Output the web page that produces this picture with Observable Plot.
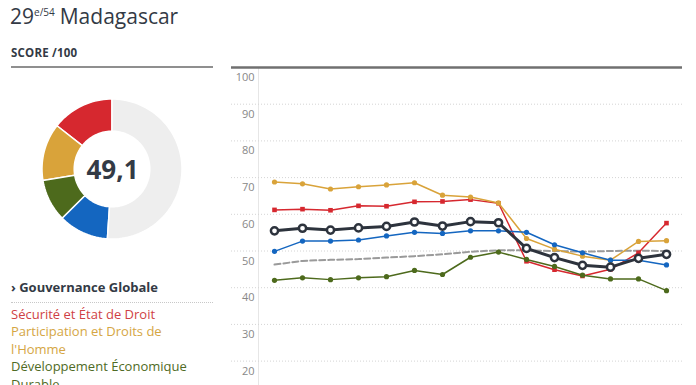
<!DOCTYPE html>
<html>
<head>
<meta charset="utf-8">
<script src="https://cdn.jsdelivr.net/npm/d3@7"></script>
<script src="https://cdn.jsdelivr.net/npm/@observablehq/plot@0.6"></script>
<style>
  html, body { margin: 0; padding: 0; background: #fff; }
  body { width: 696px; height: 385px; overflow: hidden; position: relative; font-family: "Open Sans", sans-serif; color: #333; }
  .abs { position: absolute; white-space: nowrap; }
  #title { left: 10px; top: 5px; font-size: 21px; line-height: 22px; color: #333a45; }
  #title sup { font-size: 10px; vertical-align: 0; position: relative; top: -8px; margin-right: 5px; letter-spacing: 0; }
  #score { left: 11px; top: 47px; font-size: 11.5px; line-height: 12px; font-weight: 700; color: #333a45; letter-spacing: 0.2px; }
  #scorebar { left: 11px; top: 65.5px; width: 202px; height: 2.5px; background: #8f8f8f; }
  #donut { left: 37px; top: 94px; }
  #chart { left: 215px; top: 50px; }
  #legend { left: 11px; top: 279px; width: 202px; font-size: 13px; line-height: 17.5px; }
  #legend .head { font-weight: 700; color: #333a45; padding-bottom: 5px; border-bottom: 1px dotted #c8c8c8; margin-bottom: 3px; }
  #legend .it { white-space: normal; }
</style>
</head>
<body>
<div id="title" class="abs">29<sup>e/54</sup>Madagascar</div>
<div id="score" class="abs">SCORE /100</div>
<div id="scorebar" class="abs"></div>
<div id="donut" class="abs"></div>
<div id="chart" class="abs"></div>
<div id="legend" class="abs"></div>
<script>
// ---- Data ----
const years = ["2000","2001","2002","2003","2004","2005","2006","2007","2008","2009","2010","2011","2012","2013","2014"];
const overall       = [55.5, 56.2, 55.7, 56.3, 56.7, 57.9, 56.8, 58.0, 57.7, 50.7, 48.2, 46.1, 45.6, 48.0, 49.1];
const safety        = [61.2, 61.4, 61.1, 62.3, 62.2, 63.4, 63.5, 64.0, 63.0, 47.2, 44.9, 43.2, 45.0, 49.5, 57.6];
const participation = [68.8, 68.3, 66.9, 67.5, 68.0, 68.6, 65.2, 64.7, 63.1, 53.4, 50.5, 48.6, 47.5, 52.6, 52.8];
const economic      = [42.0, 42.7, 42.2, 42.7, 43.0, 44.7, 43.6, 48.3, 49.7, 47.7, 45.8, 43.4, 42.4, 42.4, 39.2];
const human         = [49.9, 52.7, 52.7, 53.0, 54.1, 55.1, 54.8, 55.5, 55.5, 55.1, 51.7, 49.5, 47.5, 47.5, 46.2];
const africaAvg     = [46.3, 47.3, 47.6, 47.8, 48.2, 48.6, 49.1, 49.8, 50.2, 50.2, 50.0, 49.8, 50.0, 50.1, 50.0];
const yTicks = [20, 30, 40, 50, 60, 70, 80, 90, 100];

const categories = ["Sécurité et État de Droit", "Participation et Droits de l'Homme", "Développement Économique Durable", "Développement Humain"];
const catColors  = ["#d6282f", "#d9a33a", "#4d6a1c", "#1466c0"];
const textColors = ["#cf3f45", "#d5a644", "#4f6b25", "#1466c0"];
const restColor = "#eeeeee";

// ---- Legend (HTML text) ----
const legend = document.getElementById("legend");
legend.innerHTML = `<div class="head">› Gouvernance Globale</div>` +
  `<div class="it" style="color:${textColors[0]}">Sécurité et État de Droit</div>` +
  `<div class="it" style="color:${textColors[1]}">Participation et Droits de<br>l'Homme</div>` +
  `<div class="it" style="color:${textColors[2]}">Développement Économique<br>Durable</div>` +
  `<div class="it" style="color:${textColors[3]}">Développement Humain</div>`;

// ---- Donut ----
const last = [safety, participation, economic, human].map(a => a[a.length - 1]);
const shares = last.map(v => v / 4); // percent of the circle
const segs = [];
let acc = 0;
shares.forEach((s, i) => { segs.push({seg: categories[i], a0: acc, a1: acc + s}); acc += s; });
segs.push({seg: "reste", a0: acc, a1: 100});
const R = 1, r = 0.54;
const arcRows = [];
for (const s of segs) {
  const n = Math.max(2, Math.ceil((s.a1 - s.a0) * 1.5));
  for (let k = 0; k <= n; k++) {
    const t = (s.a0 + (s.a1 - s.a0) * k / n) / 100 * 2 * Math.PI;
    arcRows.push({seg: s.seg, x1: -R * Math.sin(t), y1: R * Math.cos(t), x2: -r * Math.sin(t), y2: r * Math.cos(t)});
  }
}
const dScale = 75 / 70;
const donut = Plot.plot({
  width: 150, height: 150, margin: 0,
  x: {domain: [-dScale, dScale], axis: null},
  y: {domain: [-dScale, dScale], axis: null},
  color: {domain: [...categories, "reste"], range: [...catColors, restColor]},
  style: {background: "transparent", fontFamily: "Open Sans"},
  marks: [
    Plot.area(arcRows, {x1: "x1", y1: "y1", x2: "x2", y2: "y2", z: "seg", fill: "seg", stroke: "white", strokeWidth: 1.5, curve: "linear"}),
    Plot.text([overall[overall.length - 1].toFixed(1).replace(".", ",")], {x: 0, y: 0, text: d => d, fontSize: 26, fontWeight: "bold", fill: "#333a45", dy: 1})
  ]
});
document.getElementById("donut").appendChild(donut);

// ---- Line chart ----
const rows = arr => years.map((y, i) => ({year: y, value: arr[i]}));
const series = [
  {data: rows(safety), color: catColors[0], symbol: "square", r: 2.6},
  {data: rows(participation), color: catColors[1], symbol: "circle", r: 2.6},
  {data: rows(economic), color: catColors[2], symbol: "circle", r: 2.6},
  {data: rows(human), color: catColors[3], symbol: "circle", r: 2.6}
];
const marks = [
  Plot.frame({anchor: "left", stroke: "#e6e6e6"}),
  Plot.ruleY(yTicks.filter(t => t < 100), {y: d => d, stroke: "#d4d4d4", strokeDasharray: "1,2", insetLeft: -27}),
  Plot.ruleY([100], {y: d => d, stroke: "#707070", strokeWidth: 2.5, insetLeft: -27}),
  Plot.axisY(yTicks, {tickSize: 0, tickPadding: 4, dy: 10, fill: "#888", fontSize: 11, label: null}),
  Plot.line(rows(africaAvg), {x: "year", y: "value", stroke: "#9a9a9a", strokeWidth: 2, strokeDasharray: "6,3"})
];
for (const s of series) {
  marks.push(Plot.line(s.data, {x: "year", y: "value", stroke: s.color, strokeWidth: 1.5}));
  marks.push(Plot.dot(s.data, {x: "year", y: "value", fill: s.color, r: s.r, symbol: s.symbol}));
}
marks.push(Plot.line(rows(overall), {x: "year", y: "value", stroke: "#2d333d", strokeWidth: 3}));
marks.push(Plot.dot(rows(overall), {x: "year", y: "value", fill: "white", stroke: "#2d333d", strokeWidth: 2.5, r: 3.6}));

const chart = Plot.plot({
  width: 481, height: 394,
  marginLeft: 43, marginRight: 14, marginTop: 17, marginBottom: 10,
  x: {type: "point", domain: years, padding: 0.5, axis: null},
  y: {domain: [0, 100], axis: null},
  style: {background: "transparent", fontFamily: "Open Sans", fontSize: "11px"},
  marks
});
document.getElementById("chart").appendChild(chart);
</script>
</body>
</html>
